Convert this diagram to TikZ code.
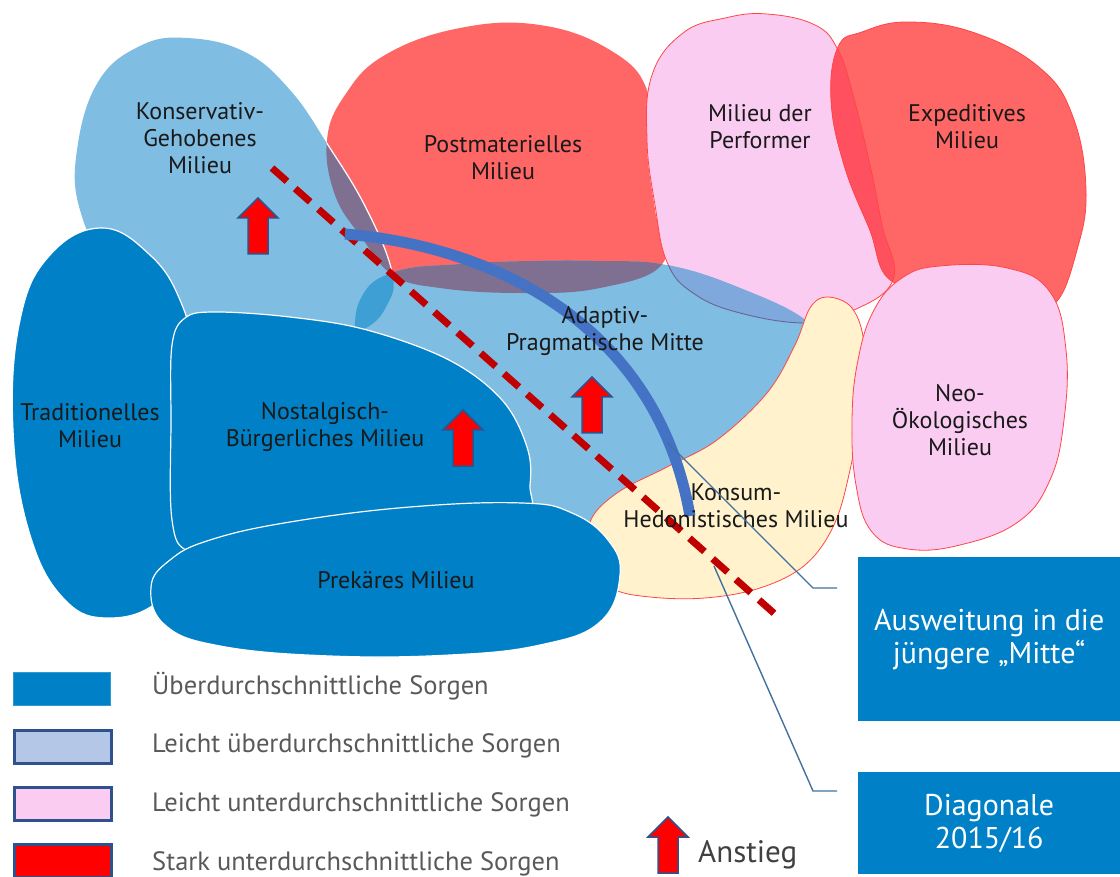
\documentclass[tikz,border=0pt]{standalone}
\usepackage{fontspec}
\setmainfont{PT Sans}
\definecolor{lb}{RGB}{127,189,226}
\definecolor{db}{RGB}{0,128,198}
\definecolor{rd}{RGB}{255,102,102}
\definecolor{pk}{RGB}{250,204,242}
\definecolor{yl}{RGB}{255,242,204}
\definecolor{pu}{RGB}{127,112,145}
\definecolor{mb}{RGB}{127,168,220}
\definecolor{lensc}{RGB}{61,159,212}
\definecolor{dr}{RGB}{255,80,96}
\definecolor{outl}{RGB}{255,70,70}
\definecolor{dashc}{RGB}{192,0,0}
\definecolor{arcc}{RGB}{68,114,196}
\definecolor{arb}{RGB}{47,82,143}
\definecolor{cl}{RGB}{65,113,156}
\definecolor{lg}{RGB}{180,199,231}
\definecolor{txtg}{RGB}{89,89,89}
\definecolor{txt}{RGB}{25,25,25}
\definecolor{pline}{RGB}{105,100,150}
\definecolor{anstc}{RGB}{64,64,64}
\def\pR{plot[smooth cycle,tension=0.7] coordinates {(393,275) (362,238) (335,195) (327,140) (345,95) (385,55) (460,28) (540,25) (610,50) (647,90) (647,150) (655,210) (663,263) (600,288) (520,293) (440,288)}}
\def\pK{plot[smooth cycle,tension=0.7] coordinates {(187,38) (245,52) (290,90) (328,145) (366,208) (392,272) (387,305) (364,329) (320,340) (240,335) (170,310) (110,265) (80,210) (77,150) (98,82) (140,46)}}
\def\pA{plot[smooth cycle,tension=0.7] coordinates {(394,272) (460,264) (530,261) (600,261) (667,265) (740,288) (808,322) (830,360) (780,430) (700,480) (600,540) (480,560) (350,520) (320,420) (350,360) (360,300)}}
\def\pP{plot[smooth cycle,tension=0.7] coordinates {(767,14) (815,25) (838,50) (853,95) (870,165) (882,225) (893,280) (850,312) (807,323) (740,313) (693,293) (667,262) (655,205) (647,140) (652,75) (683,33) (725,18)}}
\def\pE{plot[smooth cycle,tension=0.7] coordinates {(838,47) (831,100) (844,165) (869,228) (893,282) (960,285) (1025,295) (1055,303) (1077,250) (1086,190) (1073,117) (1040,68) (975,33) (908,22) (862,32)}}
\def\pN{plot[smooth cycle,tension=0.7] coordinates {(940,266) (1007,268) (1050,292) (1066,350) (1064,420) (1050,480) (1018,522) (960,545) (908,549) (872,532) (856,485) (852,420) (858,360) (874,310) (902,278)}}
\def\pC{plot[smooth cycle,tension=0.6] coordinates {(827,297) (852,308) (864,345) (860,410) (850,470) (834,525) (805,565) (760,588) (705,598) (650,597) (612,588) (592,560) (590,522) (617,493) (667,467) (717,440) (767,393) (795,345) (810,308)}}
\def\pT{plot[smooth cycle,tension=0.7] coordinates {(102,228) (150,255) (180,300) (195,360) (200,450) (190,550) (160,600) (110,618) (65,600) (30,535) (13,430) (20,320) (50,255)}}
\def\pNB{plot[smooth cycle,tension=0.6] coordinates {(215,312) (290,317) (367,330) (449,360) (502,400) (527,447) (530,485) (520,520) (400,540) (250,555) (190,552) (172,520) (171,420) (172,345) (185,318)}}
\def\pPR{plot[smooth cycle,tension=0.7] coordinates {(151,587) (170,560) (210,540) (290,522) (410,507) (522,503) (572,513) (608,540) (620,575) (600,622) (540,645) (450,655) (330,656) (220,646) (165,625)}}
\begin{document}
\begin{tikzpicture}[x=1pt,y=-1pt,
  lab/.style={align=center,text=txt,font=\fontsize{24}{27}\selectfont,inner sep=0pt},
  legtxt/.style={anchor=west,text=txtg,font=\fontsize{26.5}{30}\selectfont,inner sep=0pt},
  legbox/.style={minimum width=97pt,minimum height=33pt,inner sep=0pt,draw=arb,line width=2.5pt},
  callbox/.style={fill=db,text=white,align=center,inner sep=0pt,font=\fontsize{30}{33}\selectfont,anchor=north west,minimum width=262pt},
  blobline/.style={draw=outl,line width=0.8pt},
  darkblob/.style={fill=db,draw=white,line width=1.2pt},
  arrowsty/.style={fill=red,draw=arb,line width=1.5pt,line join=miter},
  calline/.style={draw=cl,line width=1.4pt},
  uparrow/.pic={\path[arrowsty] (0,0) -- (20,20) -- (10,20) -- (10,56) -- (-10,56) -- (-10,20) -- (-20,20) -- cycle;}]
\useasboundingbox (0,0) rectangle (1120,877);
% top blobs
\fill[rd] \pR;
\fill[pk] \pP;
\fill[rd] \pE;
\begin{scope}\clip \pP; \fill[dr] \pE; \end{scope}
\path[blobline] \pP;
\path[blobline] \pE;
% light blue blobs
\fill[lb] \pK;
\fill[lb] \pA;
\begin{scope}\clip \pK; \fill[lensc] \pA; \end{scope}
\begin{scope}\clip \pR; \fill[pu] \pK; \fill[pu] \pA; \draw[white,line width=1.2pt] \pK; \end{scope}
\begin{scope}\clip \pP; \fill[mb] \pA; \end{scope}
\begin{scope}\clip \pA; \draw[pline,line width=0.9pt] \pP; \end{scope}
% Konsum and Neo
\path[fill=yl,blobline] \pC;
\path[fill=pk,blobline] \pN;
% dark blobs
\path[darkblob] \pT;
\path[darkblob] \pNB;
\path[darkblob] \pPR;
% diagonal
\coordinate (d1) at (272,168);
\coordinate (d2) at (776,615);
\draw[dashc,line width=7pt,dash pattern=on 20pt off 11pt] (d1) -- (d2);
% arc
\coordinate (a1) at (345,234);
\coordinate (a2) at (690,516);
\draw[arcc,line width=11pt] (a1) .. controls (480,245) and (655,315) .. (a2);
% arrows
\pic at (258,198) {uparrow};
\pic at (463,410) {uparrow};
\pic at (592,377) {uparrow};
\pic at (668,817) {uparrow};
% labels
\node[lab] (tK) at (200,138) {Konservativ-\\Gehobenes\\Milieu};
\node[lab] (tPM) at (503,158) {Postmaterielles\\Milieu};
\node[lab] (tPF) at (760,127) {Milieu der\\Performer};
\node[lab] (tEX) at (967,127) {Expeditives\\Milieu};
\node[lab] (tAP) at (605,331) {Adaptiv-\\Pragmatische Mitte};
\node[lab] (tTR) at (90,426) {Traditionelles\\Milieu};
\node[lab] (tNB) at (325,427) {Nostalgisch-\\Bürgerliches Milieu};
\node[lab] (tPR) at (396,580) {Prekäres Milieu};
\node[lab] (tKH) at (736,506) {Konsum-\\Hedonistisches Milieu};
\node[lab] (tNE) at (960,420) {Neo-\\Ökologisches\\Milieu};
% callouts
\node[callbox,minimum height=164pt] (box1) at (858,557) {Ausweitung in die\\jüngere „Mitte“};
\node[callbox,minimum height=102pt] (box2) at (858,772) {Diagonale\\2015/16};
\coordinate (l1a) at (667,442);
\coordinate (l1b) at (813,588);
\coordinate (l1c) at (837,588);
\coordinate (l2a) at (714,566);
\coordinate (l2b) at (813,791);
\coordinate (l2c) at (837,791);
\draw[calline] (l1a) -- (l1b) -- (l1c);
\draw[calline] (l2a) -- (l2b) -- (l2c);
% legend
\node[legbox,fill=db,draw=db!80!white,line width=1pt,anchor=north west] (lg1) at (13,672) {};
\node[legbox,fill=lg,anchor=north west] (lg2) at (13,729) {};
\node[legbox,fill=pk,anchor=north west] (lg3) at (13,786) {};
\node[legbox,fill=red,anchor=north west] (lg4) at (13,843) {};
\node[legtxt] (lt1) at (152,686) {Überdurchschnittliche Sorgen};
\node[legtxt] (lt2) at (152,746) {Leicht überdurchschnittliche Sorgen};
\node[legtxt] (lt3) at (152,805) {Leicht unterdurchschnittliche Sorgen};
\node[legtxt] (lt4) at (152,864) {Stark unterdurchschnittliche Sorgen};
\node[anchor=west,inner sep=0pt,text=anstc,font=\fontsize{31}{34}\selectfont] (anst) at (698,855) {Anstieg};
\end{tikzpicture}
\end{document}
